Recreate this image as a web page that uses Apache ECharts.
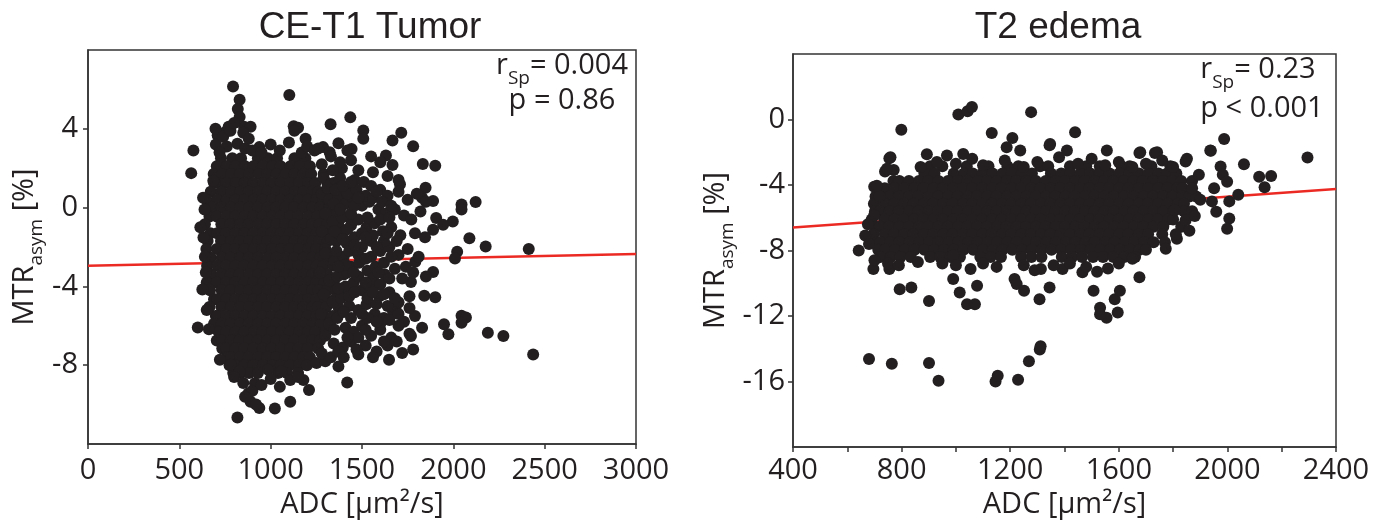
<!DOCTYPE html>
<html><head><meta charset="utf-8">
<script src="https://cdn.jsdelivr.net/npm/echarts@6/dist/echarts.min.js"></script>
<style>html,body{margin:0;padding:0;background:#fff}#c{width:1378px;height:527px}</style>
</head><body><div id="c"></div>
<script>
// ---------- texts ----------
const panelTitles = ['CE-T1 Tumor', 'T2 edema'];
const xAxisTitle = 'ADC [μm²/s]';
const tumorStats = ['= 0.004', 'p = 0.86'];
const edemaStats = ['= 0.23', 'p < 0.001'];

// ---------- regression lines (ADC, MTRasym) ----------
const tumorFit = [[0, -2.95], [3000, -2.35]];
const edemaFit = [[400, -6.6], [2400, -4.25]];

// ---------- CE-T1 tumor: dense core, rows of [MTRasym, ADC, ADC, ...] ----------
const tumorCoreRows = [
  [2.5, 728, 790, 838, 930, 985, 1035, 1130, 1190],
  [2.1, 705, 760, 808, 860, 905, 958, 1010, 1055, 1108, 1160, 1215],
  [1.7, 688, 735, 785, 832, 882, 935, 980, 1033, 1082, 1130, 1180, 1222, 1290],
  [1.25, 690, 710, 758, 810, 858, 905, 958, 1005, 1055, 1106, 1155, 1205, 1245, 1310, 1345],
  [0.8, 672, 730, 785, 835, 880, 932, 982, 1030, 1080, 1132, 1180, 1228, 1262, 1300, 1360],
  [0.4, 648, 708, 760, 808, 857, 908, 955, 1006, 1057, 1105, 1155, 1205, 1250, 1290, 1335, 1395],
  [0.0, 680, 732, 782, 833, 882, 930, 983, 1030, 1082, 1128, 1180, 1230, 1272, 1320, 1362],
  [-0.45, 665, 705, 757, 806, 858, 905, 957, 1008, 1055, 1106, 1152, 1205, 1255, 1300, 1350, 1425],
  [-0.85, 640, 730, 780, 832, 880, 932, 980, 1033, 1080, 1130, 1182, 1228, 1268, 1310, 1370],
  [-1.3, 670, 707, 755, 808, 856, 906, 958, 1005, 1056, 1105, 1156, 1203, 1252, 1290, 1340, 1395],
  [-1.7, 655, 728, 782, 830, 882, 930, 982, 1032, 1080, 1132, 1178, 1230, 1265, 1312, 1360, 1440],
  [-2.1, 648, 705, 758, 805, 858, 908, 955, 1007, 1058, 1104, 1155, 1206, 1250, 1300],
  [-2.55, 672, 732, 780, 832, 880, 930, 985, 1030, 1082, 1130, 1180, 1228, 1270, 1320, 1375],
  [-2.95, 652, 708, 756, 808, 855, 906, 957, 1008, 1055, 1107, 1153, 1205, 1252, 1290, 1345],
  [-3.4, 675, 730, 782, 830, 883, 932, 980, 1032, 1080, 1131, 1180, 1230, 1266, 1310, 1400],
  [-3.8, 650, 705, 757, 806, 858, 905, 958, 1005, 1057, 1105, 1156, 1204, 1250, 1295, 1345],
  [-4.2, 668, 732, 780, 833, 880, 930, 982, 1030, 1082, 1128, 1182, 1228, 1262, 1310, 1360, 1420],
  [-4.65, 690, 708, 758, 808, 855, 908, 955, 1008, 1056, 1106, 1153, 1205, 1248, 1300, 1350],
  [-5.05, 665, 730, 782, 830, 882, 932, 980, 1033, 1080, 1130, 1180, 1228, 1258, 1305, 1370],
  [-5.5, 700, 707, 756, 806, 858, 906, 957, 1006, 1055, 1105, 1155, 1203, 1250, 1290, 1340],
  [-5.9, 690, 732, 780, 832, 880, 930, 983, 1030, 1082, 1130, 1178, 1230, 1275, 1325],
  [-6.3, 715, 758, 808, 857, 908, 955, 1008, 1057, 1105, 1156, 1205, 1245, 1300],
  [-6.75, 705, 733, 782, 830, 882, 930, 980, 1032, 1080, 1130, 1182, 1228, 1270],
  [-7.15, 735, 758, 806, 856, 906, 957, 1005, 1056, 1106, 1153, 1203, 1260],
  [-7.6, 760, 782, 832, 880, 932, 982, 1030, 1080, 1130, 1180, 1215],
  [-8.0, 775, 808, 857, 905, 958, 1008, 1056, 1105, 1155, 1198],
  [-8.4, 795, 835, 882, 930, 1040, 1090, 1150]
];

// ---------- CE-T1 tumor: scattered points [ADC, MTRasym] ----------
const tumorSpread = [
  [794, 6.15], [1102, 5.72], [830, 5.47], [820, 5.0], [830, 4.6], [1436, 4.58], [1328, 4.23], [1126, 4.13],
  [1150, 4.05], [1507, 3.92], [1715, 3.8], [1667, 3.41], [1507, 3.5], [1371, 3.27], [1780, 3.12], [1191, 3.5],
  [938, 3.07], [577, 2.9], [753, 3.84], [710, 3.67], [698, 4.0], [770, 4.1], [854, 4.1], [890, 4.1], [818, 3.24],
  [1287, 3.07], [1323, 2.81], [1443, 2.98], [1631, 2.64], [1667, 2.16], [1833, 2.21], [1901, 2.13],
  [700, 3.2], [740, 3.6], [780, 3.9], [800, 4.3], [850, 3.8], [860, 3.0], [880, 3.5], [900, 2.9], [760, 3.1],
  [720, 2.8], [950, 2.8], [1000, 3.2], [1050, 2.9], [1100, 3.3], [1130, 3.9], [1170, 2.8], [1200, 3.1], [1240, 2.9],
  [565, 1.75], [686, 1.36], [1708, 1.19], [1848, 1.01], [2045, 0.16], [2122, 0.28], [2045, -0.1], [1829, 0.5],
  [1889, 0.33], [638, -0.1], [1906, -0.53], [1997, -0.7], [1944, -0.87], [1889, -1.13], [632, -1.52], [2088, -1.55],
  [2177, -1.98], [2413, -2.1], [2021, -2.24], [2009, -2.58], [1792, -2.75], [1889, -3.27], [1768, -3.78], [626, -4.16],
  [1841, -4.47], [1901, -4.55], [1684, -5.07], [2045, -5.49], [2069, -5.58], [2045, -5.84], [1949, -5.92], [601, -6.09],
  [662, -6.18], [1973, -6.43], [2189, -6.35], [2274, -6.52], [2437, -7.46], [1829, -6.1], [1768, -6.52], [1780, -7.2],
  [1720, -7.38], [1648, -7.72], [1480, -7.46], [722, -7.72], [782, -7.98], [830, -8.32], [1371, -8.06], [1419, -8.88],
  [1210, -9.26], [1179, -8.75], [1107, -9.86], [1023, -10.2], [938, -10.17], [890, -9.86], [818, -10.66], [878, -9.43],
  [914, -8.92], [986, -8.23], [1058, -8.32], [1107, -8.75], [1251, -7.89], [1299, -7.8],
  [800, -8.6], [850, -8.9], [900, -9.3], [950, -9.0], [1000, -8.7], [1050, -9.1], [1150, -8.6], [860, -9.6], [920, -10.0],
  [1280, 2.2], [1330, 2.6], [1390, 2.0], [1440, 2.4], [1480, 1.9], [1420, 2.9], [1260, 3.0], [1550, 2.6], [1600, 2.3],
  [1290, 1.5], [1330, 1.2], [1380, 1.5], [1420, 1.0], [1460, 1.4], [1510, 1.3], [1550, 1.1], [1600, 0.9], [1640, 0.6],
  [1700, 0.8], [1750, 0.4], [1800, 0.7], [1850, 0.3],
  [1280, 0.7], [1320, 0.4], [1370, 0.6], [1410, 0.2], [1450, 0.5], [1500, 0.1], [1540, 0.3], [1590, -0.1], [1630, -0.3],
  [1680, -0.1], [1730, -0.4], [1770, -0.6], [1820, -0.2],
  [1300, -0.3], [1340, -0.7], [1390, -0.5], [1440, -0.9], [1480, -0.6], [1525, -1.0], [1570, -0.8], [1615, -1.2],
  [1660, -1.0], [1710, -1.4], [1790, -1.3], [1845, -1.5],
  [1280, -1.2], [1330, -1.6], [1370, -1.3], [1415, -1.8], [1460, -1.5], [1500, -2.0], [1550, -1.7], [1600, -2.2],
  [1650, -2.0], [1700, -2.4], [1750, -2.1], [1810, -2.5],
  [1300, -2.3], [1350, -2.7], [1400, -2.5], [1440, -3.0], [1485, -2.8], [1530, -3.2], [1575, -3.0], [1625, -3.4],
  [1680, -3.1], [1720, -3.6], [1780, -3.3], [1850, -3.5],
  [1270, -3.3], [1320, -3.7], [1365, -3.5], [1410, -4.0], [1455, -3.8], [1500, -4.2], [1545, -4.0], [1595, -4.5],
  [1650, -4.3], [1700, -4.8], [1760, -4.5],
  [1290, -4.4], [1340, -4.8], [1385, -4.6], [1430, -5.0], [1480, -5.2], [1525, -4.9], [1570, -5.4], [1620, -5.6],
  [1670, -5.3], [1730, -5.8], [1790, -5.5],
  [1275, -5.4], [1320, -5.9], [1365, -5.6], [1410, -6.1], [1455, -6.3], [1500, -6.0], [1550, -6.5], [1600, -6.2],
  [1660, -6.6], [1700, -6.0], [1760, -6.4],
  [1300, -6.5], [1345, -6.9], [1395, -7.1], [1440, -6.8], [1520, -7.0], [1580, -7.3], [1640, -7.0],
  [1280, -7.4], [1330, -7.6], [1370, -7.3], [1560, -7.6],
  [1420, 0.7], [1470, 0.9], [1520, 0.6], [1560, 0.5], [1610, 0.3], [1440, -0.3], [1530, -0.5], [1600, -0.6],
  [1650, -0.5], [1420, -1.1], [1500, -1.3], [1560, -1.4], [1620, -1.7], [1430, -2.2], [1480, -2.4], [1550, -2.5],
  [1620, -2.8], [1420, -3.3], [1480, -3.5], [1560, -3.6], [1600, -3.9], [1430, -4.5], [1530, -4.6], [1580, -4.9],
  [1640, -5.0], [1440, -5.6], [1530, -5.6], [1600, -5.9], [1480, -6.6], [1620, -6.8], [1400, -7.6], [1470, -7.2],
  [1690, -6.8], [1700, -5.4], [1680, -4.6], [1690, -1.7], [1740, -3.0], [1760, -5.1], [1660, 0.1], [1700, 1.4],
  [1640, 1.6], [1560, 1.8], [1380, 2.3], [1340, 1.9], [615, -1.0], [640, -2.5], [645, -3.3], [650, -5.2], [630, 0.5],
  [1310, 1.0], [1355, 0.9], [1395, 1.1], [1440, 1.3], [1345, 0.2], [1380, -0.1], [1460, 0.1], [1350, -1.2],
  [1395, -1.6], [1460, -1.9], [1360, -2.2], [1410, -2.9], [1520, -2.6], [1370, -3.0], [1455, -3.3], [1520, -3.8],
  [1370, -4.1], [1460, -4.3], [1560, -4.3], [1400, -5.3], [1500, -5.4], [1350, -6.2], [1420, -6.6], [1520, -6.2],
  [1580, -5.8], [1650, -5.7], [1620, -4.4], [1650, -3.6], [1590, -3.3], [1660, -2.5], [1580, -2.0], [1520, -1.5],
  [1640, -1.3], [1480, 0.5], [1580, 0.8]
];

// ---------- T2 edema: dense band, rows of [MTRasym, ADC, ADC, ...] ----------
const edemaCoreRows = [
  [-2.85, 905, 950, 1040, 1120, 1190, 1230, 1310, 1340, 1420, 1480, 1530, 1610, 1640, 1720, 1790],
  [-3.3, 884, 921, 992, 1030, 1062, 1098, 1135, 1172, 1206, 1243, 1280, 1350, 1388, 1422, 1458, 1495, 1530, 1566, 1602, 1640, 1674, 1710, 1746, 1778, 1812],
  [-3.75, 770, 792, 827, 864, 898, 936, 971, 1008, 1042, 1080, 1115, 1150, 1188, 1222, 1260, 1295, 1331, 1368, 1402, 1440, 1474, 1511, 1547, 1580, 1619, 1655, 1688, 1727, 1763, 1797, 1830, 1870],
  [-4.2, 712, 738, 774, 810, 846, 880, 918, 952, 990, 1026, 1060, 1097, 1134, 1168, 1205, 1240, 1278, 1312, 1350, 1384, 1420, 1458, 1492, 1530, 1564, 1602, 1636, 1674, 1708, 1746, 1780, 1816, 1835],
  [-4.7, 704, 720, 756, 791, 828, 862, 900, 934, 972, 1006, 1044, 1078, 1116, 1150, 1188, 1222, 1260, 1294, 1332, 1366, 1404, 1438, 1476, 1510, 1548, 1582, 1620, 1654, 1692, 1726, 1764, 1798, 1834, 1860, 1885],
  [-5.15, 698, 738, 772, 810, 844, 882, 916, 954, 988, 1026, 1060, 1098, 1132, 1170, 1204, 1242, 1276, 1314, 1348, 1386, 1420, 1458, 1492, 1530, 1564, 1602, 1636, 1674, 1708, 1746, 1780, 1818, 1840],
  [-5.6, 702, 718, 756, 790, 828, 862, 900, 934, 972, 1006, 1044, 1078, 1116, 1150, 1188, 1222, 1260, 1294, 1332, 1366, 1404, 1438, 1476, 1510, 1548, 1582, 1620, 1654, 1692, 1726, 1764, 1800, 1840, 1870],
  [-6.1, 690, 736, 774, 808, 846, 880, 918, 952, 990, 1024, 1062, 1096, 1134, 1168, 1206, 1240, 1278, 1312, 1350, 1384, 1422, 1456, 1494, 1528, 1566, 1600, 1638, 1672, 1710, 1744, 1782, 1800],
  [-6.55, 703, 720, 754, 792, 826, 864, 898, 936, 970, 1008, 1042, 1080, 1114, 1152, 1186, 1224, 1258, 1296, 1330, 1368, 1402, 1440, 1474, 1512, 1546, 1584, 1618, 1656, 1690, 1728, 1764, 1830],
  [-7.0, 696, 738, 772, 810, 844, 882, 916, 954, 988, 1026, 1060, 1098, 1132, 1170, 1204, 1242, 1276, 1314, 1348, 1386, 1420, 1458, 1492, 1530, 1564, 1602, 1636, 1674, 1708, 1760],
  [-7.5, 710, 722, 758, 792, 830, 864, 902, 936, 974, 1008, 1046, 1080, 1118, 1152, 1190, 1224, 1262, 1296, 1334, 1368, 1406, 1440, 1478, 1512, 1550, 1584, 1622, 1656, 1694, 1728, 1770],
  [-7.95, 714, 740, 776, 812, 848, 884, 920, 956, 992, 1028, 1064, 1100, 1136, 1172, 1208, 1244, 1280, 1316, 1352, 1388, 1424, 1460, 1496, 1532, 1568, 1604, 1640, 1676, 1700],
  [-8.4, 722, 760, 796, 834, 905, 942, 980, 1015, 1090, 1128, 1166, 1240, 1278, 1315, 1390, 1428, 1465, 1505, 1542, 1580, 1620, 1660]
];

// ---------- T2 edema: scattered points [ADC, MTRasym] ----------
const edemaSpread = [
  [1009, 0.31], [1043, 0.51], [1059, 0.76], [1277, 0.45], [799, -0.62], [1132, -0.82], [1208, -1.13], [1439, -0.78],
  [1187, -1.7], [1345, -1.58], [1988, -1.19], [1939, -1.91], [2295, -2.32], [2061, -2.73], [2117, -3.49], [2161, -3.45],
  [2137, -4.14], [1975, -2.87], [1983, -3.38], [1999, -3.8], [1951, -4.2], [2040, -4.6], [2007, -5.0], [1943, -5.0],
  [2007, -6.05], [1999, -6.67], [1959, -5.64], [1870, -4.2], [1895, -3.38], [1846, -2.56], [1733, -2.05], [1676, -2.05],
  [755, -2.36], [771, -3.08], [739, -3.18], [699, -4.1], [719, -4.68], [699, -5.85], [642, -8.0], [666, -7.08],
  [696, -9.13], [755, -9.13], [793, -10.36], [836, -10.26], [901, -11.08], [990, -9.74], [1014, -10.56], [1041, -11.28],
  [1070, -11.28], [1078, -10.15], [1054, -9.13], [1216, -9.74], [1224, -10.05], [1251, -10.46], [1313, -9.13],
  [1308, -10.97], [1345, -10.26], [1393, -9.13], [1466, -9.33], [1507, -10.46], [1531, -11.49], [1555, -12.1],
  [1531, -11.9], [1596, -11.79], [1585, -10.97], [1604, -10.46], [1676, -9.64], [990, -8.3], [1814, -7.28],
  [1773, -7.9], [1846, -6.15], [1806, -5.54],
  [680, -14.63], [764, -14.91], [901, -14.87], [936, -15.96], [1146, -16.0], [1154, -15.65], [1229, -15.9],
  [1269, -14.77], [1309, -14.05], [1312, -13.85],
  [750, -8.8], [790, -8.9], [860, -8.7], [950, -8.8], [1000, -8.9], [1100, -8.8], [1150, -9.0], [1250, -8.9],
  [1290, -9.2], [1360, -8.9], [1420, -8.8], [1480, -9.0], [1520, -9.3], [1560, -9.1], [1600, -8.8], [1650, -8.5],
  [893, -2.12], [967, -2.2], [1027, -2.1], [1237, -1.9], [1347, -1.5], [1409, -1.9], [1556, -1.9], [1679, -2.0],
  [1741, -2.0], [1851, -2.4], [1937, -1.9], [759, -2.3], [746, -3.0], [709, -4.05],
  [1000, -2.7], [1100, -2.8], [1180, -2.5], [1300, -2.6], [1450, -2.7], [1500, -2.4], [1600, -2.6], [1650, -2.9],
  [1700, -2.7], [1800, -2.9], [870, -2.9], [930, -2.6], [1060, -2.4], [1250, -2.9], [1380, -2.3], [1550, -2.8], [1760, -2.5],
  [1880, -5.9], [1860, -6.8], [1900, -4.9], [1810, -7.0], [676, -6.4], [680, -7.6], [700, -8.6]
];

// ---------- build ----------
const rowsToPoints = rows => rows.flatMap(r => r.slice(1).map(x => [x, r[0]]));
const tumorPoints = rowsToPoints(tumorCoreRows).concat(tumorSpread);
const edemaPoints = rowsToPoints(edemaCoreRows).concat(edemaSpread);

const ink = '#231f20';
const axisInk = '#333333';
const tickFont = 'Open Sans';
const red = '#ec2a24';

const grids = [
  {left: 88, top: 50, width: 548, height: 394},
  {left: 793, top: 54, width: 543, height: 393}
];

function xAxisCfg(gi, min, max, interval, every, margin, gap) {
  return {
    type: 'value', gridIndex: gi, min, max, interval,
    axisLine: {show: true, onZero: false, lineStyle: {color: axisInk, width: 1.5}},
    axisTick: {show: true, length: 5, lineStyle: {color: axisInk, width: 1.5}},
    axisLabel: {margin, fontFamily: tickFont, fontSize: 29, color: ink,
      formatter: v => (v % every === 0 ? String(v) : '')},
    splitLine: {show: false},
    name: xAxisTitle, nameLocation: 'middle', nameGap: gap,
    nameTextStyle: {fontFamily: tickFont, fontSize: 29, color: ink}
  };
}
function yAxisCfg(gi, min, max, margin, gap) {
  return {
    type: 'value', gridIndex: gi, min, max, interval: 4,
    axisLine: {show: true, onZero: false, lineStyle: {color: axisInk, width: 1.5}},
    axisTick: {show: true, length: 5, lineStyle: {color: axisInk, width: 1.5}},
    axisLabel: {margin, showMinLabel: false, showMaxLabel: false, fontFamily: tickFont, fontSize: 29, color: ink},
    splitLine: {show: false},
    name: '{m|MTR}{s|asym}{m| [%]}', nameLocation: 'middle', nameGap: gap, nameRotate: 90,
    nameTextStyle: {
      rich: {
        m: {fontFamily: tickFont, fontSize: 29, color: ink, lineHeight: 42},
        s: {fontFamily: tickFont, fontSize: 19, color: ink, lineHeight: 19, verticalAlign: 'bottom'}
      }
    }
  };
}

function statText(x, y, value) {
  return {
    type: 'text', x, y, z: 10,
    style: {
      text: '{r|r}{s|Sp}{e|' + value + '}',
      align: 'center', verticalAlign: 'middle',
      rich: {
        r: {fontFamily: tickFont, fontSize: 29, fill: ink, lineHeight: 44},
        s: {fontFamily: tickFont, fontSize: 19, fill: ink, lineHeight: 19, verticalAlign: 'bottom'},
        e: {fontFamily: tickFont, fontSize: 29, fill: ink, lineHeight: 44}
      }
    }
  };
}
function plainText(x, y, text, font, size) {
  return {type: 'text', x, y, z: 10,
    style: {text, fontFamily: font, fontSize: size, fill: ink, align: 'center', verticalAlign: 'middle'}};
}

const option = {
  animation: false,
  backgroundColor: '#ffffff',
  grid: grids.map(g => Object.assign({show: true, borderColor: axisInk, borderWidth: 1.5, backgroundColor: 'transparent'}, g)),
  xAxis: [xAxisCfg(0, 0, 3000, 500, 500, 12, 44), xAxisCfg(1, 400, 2400, 200, 400, 9, 41)],
  yAxis: [yAxisCfg(0, -12, 8, 10, 42), yAxisCfg(1, -20, 4, 8, 56)],
  series: [
    {type: 'line', xAxisIndex: 0, yAxisIndex: 0, data: tumorFit, symbol: 'none', z: 1,
      lineStyle: {color: red, width: 2.5}},
    {type: 'scatter', xAxisIndex: 0, yAxisIndex: 0, data: tumorPoints, symbolSize: 12, z: 2,
      itemStyle: {color: ink, opacity: 1}},
    {type: 'line', xAxisIndex: 1, yAxisIndex: 1, data: edemaFit, symbol: 'none', z: 1,
      lineStyle: {color: red, width: 2.5}},
    {type: 'scatter', xAxisIndex: 1, yAxisIndex: 1, data: edemaPoints, symbolSize: 12, z: 2,
      itemStyle: {color: ink, opacity: 1}}
  ],
  graphic: [
    plainText(370, 28, panelTitles[0], 'Liberation Sans', 37),
    plainText(1058, 28, panelTitles[1], 'Liberation Sans', 37),
    statText(562, 66, tumorStats[0]),
    plainText(562, 101, tumorStats[1], tickFont, 29),
    statText(1258, 70, edemaStats[0]),
    plainText(1262, 109, edemaStats[1], tickFont, 29)
  ]
};

const chart = echarts.init(document.getElementById('c'), null, {renderer: 'canvas'});
chart.setOption(option);
</script>
</body></html>
